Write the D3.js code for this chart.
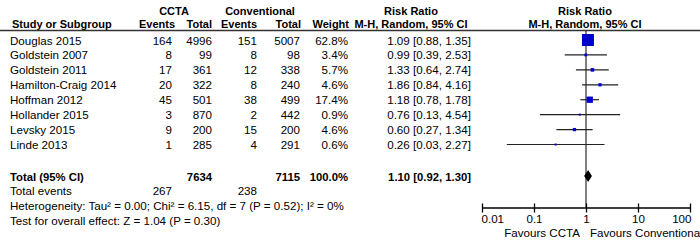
<!DOCTYPE html>
<html>
<head>
<meta charset="utf-8">
<script src="https://cdn.jsdelivr.net/npm/d3@7"></script>
<style>
  body { margin: 0; background: #fff; }
  svg { font-family: "Liberation Sans", Arial, sans-serif; }
</style>
</head>
<body>
<svg id="drawing_region"></svg>
<script>
// data
const studies = ["Douglas 2015", "Goldstein 2007", "Goldstein 2011", "Hamilton-Craig 2014",
    "Hoffman 2012", "Hollander 2015", "Levsky 2015", "Linde 2013"];
const cctaEvents = [164, 8, 17, 20, 45, 3, 9, 1];
const cctaTotal = [4996, 99, 361, 322, 501, 870, 200, 285];
const convEvents = [151, 8, 12, 8, 38, 2, 15, 4];
const convTotal = [5007, 98, 338, 240, 499, 442, 200, 291];
const weights = [62.8, 3.4, 5.7, 4.6, 17.4, 0.9, 4.6, 0.6];
const rr = [1.09, 0.99, 1.33, 1.86, 1.18, 0.76, 0.60, 0.26];
const ciLow = [0.88, 0.39, 0.64, 0.84, 0.78, 0.13, 0.27, 0.03];
const ciHigh = [1.35, 2.53, 2.74, 4.16, 1.78, 4.54, 1.34, 2.27];
const total = {ccta: 7634, conv: 7115, weight: 100.0, rr: 1.10, lo: 0.92, hi: 1.30, cctaEv: 267, convEv: 238};
const axisTicks = [0.01, 0.1, 1, 10, 100];

const config = {width: 700, height: 245};
const svg = d3.select('#drawing_region')
    .attr('width', config.width)
    .attr('height', config.height);

const fmt2 = d3.format('.2f');
const rrText = (v, lo, hi) => `${fmt2(v)} [${fmt2(lo)}, ${fmt2(hi)}]`;

// columns (right edges)
const col = {name: 10, cEv: 172, cTot: 212, vEv: 257, vTot: 300, w: 348, rr: 471};

// rows
const y = d3.scalePoint().domain(studies).range([40, 144.5]);
const x = d3.scaleLog().domain([0.01, 100]).range([482, 690]);
const FS = 11.6;

function txt(xp, yp, s, anchor, bold, size) {
    return svg.append('text')
        .attr('x', xp).attr('y', yp)
        .attr('text-anchor', anchor || 'start')
        .attr('font-size', size || (bold ? 11.3 : FS))
        .attr('font-weight', bold ? 'bold' : 'normal')
        .attr('fill', '#000')
        .text(s);
}

// header
const HS = 11;
txt(174, 15, 'CCTA', 'middle', true, HS);
txt(260, 15, 'Conventional', 'middle', true, HS);
txt(411, 15, 'Risk Ratio', 'middle', true, HS);
txt(585, 15, 'Risk Ratio', 'middle', true, HS);
txt(12, 28, 'Study or Subgroup', 'start', true, HS);
txt(175, 28, 'Events', 'end', true, HS);
txt(212, 28, 'Total', 'end', true, HS);
txt(257, 28, 'Events', 'end', true, HS);
txt(301, 28, 'Total', 'end', true, HS);
txt(349, 28, 'Weight', 'end', true, HS);
txt(411, 28, 'M-H, Random, 95% CI', 'middle', true, HS);
txt(585, 28, 'M-H, Random, 95% CI', 'middle', true, HS);

svg.append('line')
    .attr('x1', 0).attr('x2', config.width)
    .attr('y1', 30.5).attr('y2', 30.5)
    .attr('stroke', '#333').attr('stroke-width', 1.3);

// study rows
studies.forEach((s, i) => {
    const yy = y(s) + 4.5;
    txt(col.name, yy, s);
    txt(col.cEv, yy, cctaEvents[i], 'end');
    txt(col.cTot, yy, cctaTotal[i], 'end');
    txt(col.vEv, yy, convEvents[i], 'end');
    txt(col.vTot, yy, convTotal[i], 'end');
    txt(col.w, yy, weights[i].toFixed(1) + '%', 'end');
    txt(col.rr, yy, rrText(rr[i], ciLow[i], ciHigh[i]), 'end');
});

// total rows
const yTot = 176;
txt(col.name, yTot + 4.5, 'Total (95% CI)', 'start', true);
txt(col.cTot, yTot + 4.5, total.ccta, 'end', true);
txt(col.vTot, yTot + 4.5, total.conv, 'end', true);
txt(col.w, yTot + 4.5, total.weight.toFixed(1) + '%', 'end', true);
txt(col.rr, yTot + 4.5, rrText(total.rr, total.lo, total.hi), 'end', true);
txt(col.name, 195, 'Total events');
txt(col.cEv, 195, total.cctaEv, 'end');
txt(col.vEv, 195, total.convEv, 'end');
txt(col.name, 210, 'Heterogeneity: Tau² = 0.00; Chi² = 6.15, df = 7 (P = 0.52); I² = 0%');
txt(col.name, 225, 'Test for overall effect: Z = 1.04 (P = 0.30)');

// forest plot
const plot = svg.append('g');
const axisY = 207.5;

plot.append('line')
    .attr('x1', x(1)).attr('x2', x(1))
    .attr('y1', 31).attr('y2', axisY)
    .attr('stroke', '#000').attr('stroke-width', 1);

const rows = plot.selectAll('.study')
    .data(studies.map((s, i) => ({s, i})))
    .enter().append('g').attr('class', 'study');

rows.append('line')
    .attr('x1', d => x(ciLow[d.i])).attr('x2', d => x(ciHigh[d.i]))
    .attr('y1', d => y(d.s)).attr('y2', d => y(d.s))
    .attr('stroke', '#222').attr('stroke-width', 1.2);

const side = w => Math.max(2, 12 * Math.sqrt(w / 62.8));
rows.append('rect')
    .attr('x', d => x(rr[d.i]) - side(weights[d.i]) / 2)
    .attr('y', d => y(d.s) - side(weights[d.i]) / 2)
    .attr('width', d => side(weights[d.i]))
    .attr('height', d => side(weights[d.i]))
    .attr('fill', '#0000cc');

// diamond
plot.append('path')
    .attr('d', `M${x(total.lo)},${yTot} L${x(total.rr)},${yTot - 6} L${x(total.hi)},${yTot} L${x(total.rr)},${yTot + 6} Z`)
    .attr('fill', '#000');

// axis
const axis = plot.append('g')
    .attr('transform', `translate(0,${axisY})`)
    .call(d3.axisBottom(x).tickValues(axisTicks).tickSize(5).tickSizeOuter(0)
        .tickFormat(d => String(d)));
axis.select('.domain').attr('stroke', '#000').attr('stroke-width', 1.3);
axis.selectAll('.tick line').attr('y1', -4).attr('y2', 5).attr('stroke', '#000').attr('stroke-width', 1.3);
axis.selectAll('.tick text')
    .attr('y', 15).attr('dy', 0)
    .attr('font-size', FS)
    .attr('font-family', '"Liberation Sans", Arial, sans-serif')
    .attr('fill', '#000')
    .attr('text-anchor', (d, i) => i === 0 ? 'start' : (i === axisTicks.length - 1 ? 'end' : 'middle'))
    .attr('x', (d, i) => i === 0 ? -1 : (i === axisTicks.length - 1 ? 1 : 0));

txt(580, 237, 'Favours CCTA', 'end');
txt(590, 237, 'Favours Conventional', 'start');
</script>
</body>
</html>
